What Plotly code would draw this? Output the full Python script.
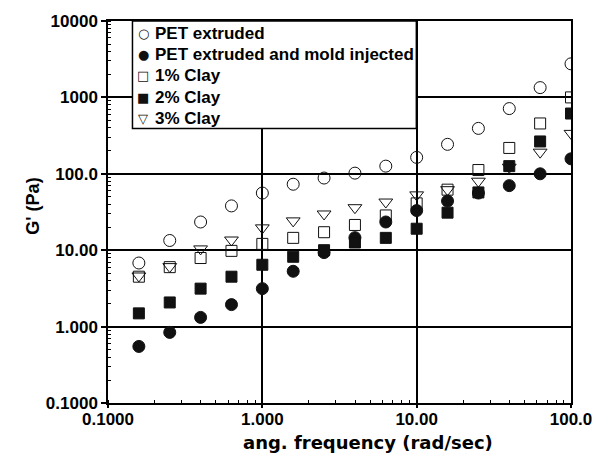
import plotly.graph_objects as go

freq = [0.1585, 0.2512, 0.3981, 0.631, 1.0, 1.585, 2.512, 3.981, 6.31, 10.0,
        15.85, 25.12, 39.81, 63.1, 100.0]
pet_extruded = [6.8, 13.4, 23.4, 38, 56, 73, 88, 102, 126, 164, 243, 393, 714, 1343, 2750]
pet_mold = [0.55, 0.84, 1.32, 1.94, 3.14, 5.3, 9.3, 14.6, 23.4, 33, 44, 56, 70, 100, 157]
clay1 = [4.5, 6.0, 7.9, 9.8, 12.1, 14.5, 17.2, 21.4, 28.5, 41, 62, 112, 218, 456, 1000]
clay2 = [1.49, 2.07, 3.14, 4.5, 6.45, 8.2, 10.0, 12.6, 14.5, 19.1, 31, 57, 126, 265, 615]
clay3 = [4.6, 6.1, 10.4, 13.6, 19.6, 24.2, 29.8, 36, 42.7, 53, 62, 80, 122, 192, 338]

names = ["PET extruded", "PET extruded and mold injected", "1% Clay", "2% Clay", "3% Clay"]
series = [pet_extruded, pet_mold, clay1, clay2, clay3]
symbols = ["circle-open", "circle", "square-open", "square", "triangle-down-open"]
legend_glyphs = ["\u25CB", "\u25CF", "\u25A1", "\u25A0", "\u25BD"]
sizes = [12, 12, 11, 11, 12]

x_tickvals = [0.1, 1, 10, 100]
x_ticktext = ["0.1000", "1.000", "10.00", "100.0"]
y_tickvals = [0.1, 1, 10, 100, 1000, 10000]
y_ticktext = ["0.1000", "1.000", "10.00", "100.0", "1000", "10000"]

FONT = "Liberation Sans, Arial, sans-serif"
INK = "#111111"

fig = go.Figure()
for n, s, sym, sz in zip(names, series, symbols, sizes):
    fig.add_trace(go.Scatter(
        x=freq, y=s, mode="markers", name=n, showlegend=False,
        marker=dict(symbol=sym, size=sz, color=INK,
                    line=dict(color=INK, width=1)),
    ))

axis_common = dict(
    type="log", showline=True, linecolor="black", linewidth=1.5, mirror=True,
    showgrid=True, gridcolor="black", gridwidth=1.5, zeroline=False,
    ticks="outside", tickcolor="black", tickwidth=1.5,
    tickfont=dict(family=FONT, size=17, color="black", weight="bold"),
    minor=dict(ticks="inside", ticklen=3, tickcolor="black", tickwidth=1,
               dtick="D1", showgrid=False),
)

fig.update_xaxes(range=[-1, 2], tickvals=x_tickvals, ticktext=x_ticktext,
                 ticklen=3, ticklabelstandoff=-3, **axis_common)
fig.update_yaxes(range=[-1, 4], tickvals=y_tickvals, ticktext=y_ticktext,
                 ticklen=5, **axis_common)

L, R, T, B = 108, 23, 19, 60
W = 604 - L - R
H = 463 - T - B


def px_x(px):
    return (px - L) / W


def px_y(py):
    return (463 - B - py) / H


shapes = [dict(type="rect", xref="paper", yref="paper",
               x0=px_x(133), x1=px_x(423), y0=px_y(127), y1=1,
               fillcolor="white", line=dict(color="black", width=1.5), layer="above")]

annotations = []
row_y = [32, 53, 74, 96, 117]
for name, glyph, ry in zip(names, legend_glyphs, row_y):
    annotations.append(dict(text=glyph, x=px_x(144), y=px_y(ry), xref="paper", yref="paper",
                            xanchor="center", yanchor="middle", showarrow=False,
                            font=dict(family="DejaVu Sans", size=13, color=INK)))
    annotations.append(dict(text=name, x=px_x(154), y=px_y(ry), xref="paper", yref="paper",
                            xanchor="left", yanchor="middle", showarrow=False,
                            font=dict(family=FONT, size=17, color="black", weight="bold")))

annotations.append(dict(text="ang. frequency (rad/sec)", x=px_x(374), y=px_y(443),
                        xref="paper", yref="paper", xanchor="center", yanchor="middle",
                        showarrow=False,
                        font=dict(family="DejaVu Sans", size=18, color="black", weight="bold")))
annotations.append(dict(text="G' (Pa)", x=px_x(31), y=px_y(205), xref="paper", yref="paper",
                        xanchor="center", yanchor="middle", showarrow=False, textangle=-90,
                        font=dict(family=FONT, size=18, color="black", weight="bold")))

fig.update_layout(
    width=604, height=463,
    margin=dict(l=L, r=R, t=T, b=B),
    paper_bgcolor="white", plot_bgcolor="white",
    showlegend=False,
    shapes=shapes,
    annotations=annotations,
)

fig.write_html("out.html")
